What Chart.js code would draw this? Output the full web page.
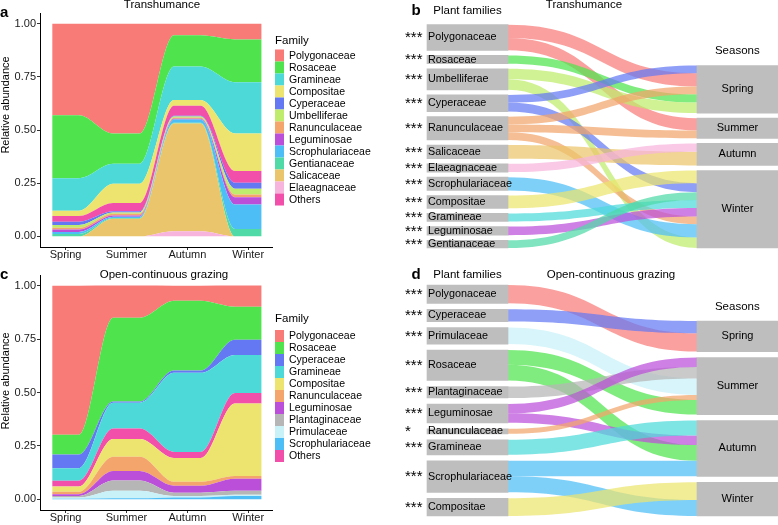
<!DOCTYPE html>
<html>
<head>
<meta charset="utf-8">
<script src="https://cdn.jsdelivr.net/npm/chart.js@4.4.1/dist/chart.umd.min.js"></script>
<style>
  body { margin: 0; background: #fff; }
  #wrap { position: relative; width: 778px; height: 525px; overflow: hidden; }
  canvas { position: absolute; }
</style>
</head>
<body>
<div id="wrap">
  <canvas id="chartA" width="380" height="262" style="left:0px;top:0px"></canvas>
  <canvas id="chartC" width="380" height="263" style="left:0px;top:262px"></canvas>
  <canvas id="chartB" width="398" height="262" style="left:380px;top:0px"></canvas>
  <canvas id="chartD" width="398" height="263" style="left:380px;top:262px"></canvas>
</div>
<script>
const seasons = ["Spring", "Summer", "Autumn", "Winter"];
const yTicks = [0, 0.25, 0.5, 0.75, 1];

// a: transhumance, relative abundance (stack order, bottom first)
const transStack = ["Elaeagnaceae", "Salicaceae", "Gentianaceae", "Scrophulariaceae", "Leguminosae",
  "Ranunculaceae", "Umbelliferae", "Cyperaceae", "Others", "Compositae", "Gramineae", "Rosaceae", "Polygonaceae"];
const transSpring = [0, 0, 0.011, 0.010, 0.011, 0.008, 0.013, 0.016, 0.027, 0.024, 0.153, 0.296, 0.431];
const transSummer = [0, 0.083, 0.003, 0.006, 0.006, 0.008, 0.006, 0.006, 0.039, 0.090, 0.094, 0.142, 0.517];
const transAutumn = [0.024, 0.507, 0.003, 0.015, 0.004, 0.005, 0.005, 0.004, 0.047, 0.027, 0.157, 0.147, 0.055];
const transWinter = [0, 0, 0.035, 0.115, 0.034, 0.013, 0.027, 0.028, 0.055, 0.177, 0.240, 0.202, 0.074];
const transLegend = ["Polygonaceae", "Rosaceae", "Gramineae", "Compositae", "Cyperaceae", "Umbelliferae",
  "Ranunculaceae", "Leguminosae", "Scrophulariaceae", "Gentianaceae", "Salicaceae", "Elaeagnaceae", "Others"];

// c: open-continuous grazing
const openStack = ["Scrophulariaceae", "Primulaceae", "Plantaginaceae", "Leguminosae", "Ranunculaceae",
  "Compositae", "Others", "Gramineae", "Cyperaceae", "Rosaceae", "Polygonaceae"];
const openSpring = [0.003, 0.005, 0.008, 0.008, 0.011, 0.025, 0.027, 0.059, 0.064, 0.092, 0.698];
const openSummer = [0.005, 0.035, 0.048, 0.044, 0.067, 0.083, 0.049, 0.121, 0.006, 0.392, 0.151];
const openAutumn = [0.009, 0.006, 0.016, 0.032, 0.019, 0.111, 0.029, 0.370, 0.011, 0.326, 0.071];
const openWinter = [0.016, 0.005, 0.019, 0.056, 0.013, 0.340, 0.049, 0.178, 0.071, 0.154, 0.100];
const openLegend = ["Polygonaceae", "Rosaceae", "Cyperaceae", "Gramineae", "Compositae", "Ranunculaceae",
  "Leguminosae", "Plantaginaceae", "Primulaceae", "Scrophulariaceae", "Others"];

// b: plant families -> seasons, transhumance
const transFlowFamilies = ["Polygonaceae", "Rosaceae", "Umbelliferae", "Cyperaceae", "Ranunculaceae", "Salicaceae",
  "Elaeagnaceae", "Scrophulariaceae", "Compositae", "Gramineae", "Leguminosae", "Gentianaceae"];
const transStars = ["***", "***", "***", "***", "***", "***", "***", "***", "***", "***", "***", "***"];
const transFlowSpring = [13.3, 8.3, 10.5, 7.7, 7.8, 0, 0, 0, 0, 0, 0, 0];
const transFlowSummer = [12.3, 0, 0, 0, 7.8, 0, 0, 0, 0, 0, 0, 0];
const transFlowAutumn = [0, 0, 0, 0, 0, 13.7, 8.3, 0, 0, 0, 0, 0];
const transFlowWinter = [0, 0, 10.5, 9, 7.6, 0, 0, 13.3, 12.7, 8, 8.7, 7.7];

// d: plant families -> seasons, open-continuous grazing
const openFlowFamilies = ["Polygonaceae", "Cyperaceae", "Primulaceae", "Rosaceae", "Plantaginaceae", "Leguminosae",
  "Ranunculaceae", "Gramineae", "Scrophulariaceae", "Compositae"];
const openStars = ["***", "***", "***", "***", "***", "***", "*", "***", "***", "***"];
const openFlowSpring = [18.3, 12.3, 0, 0, 0, 0, 0, 0, 0, 0];
const openFlowSummer = [0, 0, 16.5, 14.7, 11.5, 9.3, 5, 0, 0, 0];
const openFlowAutumn = [0, 0, 0, 15.7, 0, 9.5, 0, 15, 15.5, 0];
const openFlowWinter = [0, 0, 0, 0, 0, 0, 0, 0, 16, 17.7];

const familyColors = {
  Polygonaceae: "#F87B78", Rosaceae: "#4FE44E", Gramineae: "#4ED9D9", Compositae: "#ECE46E",
  Cyperaceae: "#6478F4", Umbelliferae: "#BFEC6C", Ranunculaceae: "#F3A56B", Leguminosae: "#BC4FDA",
  Scrophulariaceae: "#4EBEF7", Gentianaceae: "#4FDAA8", Salicaceae: "#EBC56B", Elaeagnaceae: "#F7B4DC",
  Others: "#F24FAA", Plantaginaceae: "#B6B6B6", Primulaceae: "#C8F1F8"
};
const nodeGray = "#BEBEBE";
const FONT = "'Liberation Sans', Arial, sans-serif";
Chart.defaults.font.family = FONT;
Chart.defaults.color = "#1a1a1a";

function rgba(hex, a) {
  const n = parseInt(hex.slice(1), 16);
  return `rgba(${n >> 16},${(n >> 8) & 255},${n & 255},${a})`;
}

// free text: panel letters, titles, axis title
const panelText = {
  id: "panelText",
  afterDraw(chart, args, opts) {
    const ctx = chart.ctx;
    (opts.items || []).forEach(it => {
      ctx.save();
      ctx.font = `${it.bold ? "bold " : ""}${it.size}px ${FONT}`;
      ctx.fillStyle = "#000";
      ctx.textAlign = it.align || "left";
      ctx.textBaseline = "middle";
      ctx.translate(it.x, it.y);
      if (it.rotate) ctx.rotate(it.rotate);
      ctx.fillText(it.text, 0, 0);
      ctx.restore();
    });
  }
};

// ggplot-like "Family" legend
const familyLegend = {
  id: "familyLegend",
  afterDraw(chart, args, opts) {
    const ctx = chart.ctx;
    ctx.save();
    ctx.fillStyle = "#000";
    ctx.textBaseline = "middle";
    ctx.font = `11.5px ${FONT}`;
    ctx.fillText("Family", opts.x, opts.titleY);
    ctx.font = `10.5px ${FONT}`;
    opts.order.forEach((name, i) => {
      const ds = chart.data.datasets.find(d => d.label === name);
      const top = opts.itemsTop + i * 12;
      ctx.fillStyle = ds.backgroundColor;
      ctx.fillRect(opts.x, top, 9, 12);
      ctx.fillStyle = "#000";
      ctx.fillText(name, opts.x + 14, top + 6.5);
    });
    ctx.restore();
  }
};

function stackChart(id, families, seasonValues, legendOrder, legendPos, texts) {
  const plateau = 0.22;
  const datasets = families.map((fam, k) => ({
    label: fam,
    data: seasonValues.flatMap((vals, i) => [{ x: i - plateau, y: vals[k] }, { x: i + plateau, y: vals[k] }]),
    backgroundColor: familyColors[fam],
    borderColor: familyColors[fam],
    borderWidth: 0,
    pointRadius: 0,
    fill: k === 0 ? "origin" : "-1",
    cubicInterpolationMode: "monotone"
  }));
  const axisGrid = { display: true, drawOnChartArea: false, tickLength: 3, color: "#333" };
  return new Chart(document.getElementById(id), {
    type: "line",
    data: { datasets },
    options: {
      responsive: false,
      animation: false,
      events: [],
      layout: { padding: { top: 13, right: 108, left: 0, bottom: 0 } },
      plugins: {
        legend: { display: false },
        tooltip: { enabled: false },
        familyLegend: { order: legendOrder, x: 275, titleY: legendPos.titleY, itemsTop: legendPos.itemsTop },
        panelText: { items: texts }
      },
      scales: {
        x: {
          type: "linear", min: -0.42, max: 3.39,
          afterBuildTicks: s => { s.ticks = seasons.map((_, i) => ({ value: i })); },
          afterFit: s => { s.height = 15; },
          ticks: { callback: v => seasons[v], font: { size: 11 }, padding: -2, maxRotation: 0, autoSkip: false, color: "#1a1a1a" },
          grid: axisGrid,
          border: { display: true, color: "#000", width: 1 }
        },
        y: {
          stacked: true, min: -0.05, max: 1.05,
          afterBuildTicks: s => { s.ticks = yTicks.map(v => ({ value: v })); },
          afterFit: s => { s.width = 40; },
          ticks: { callback: v => v.toFixed(2), font: { size: 11 }, padding: 1, color: "#1a1a1a" },
          grid: axisGrid,
          border: { display: true, color: "#000", width: 1 }
        }
      }
    },
    plugins: [familyLegend, panelText]
  });
}

function buildSankey(families, flows, gap, bottom) {
  const nf = families.length;
  const famTotal = families.map((_, i) => flows.reduce((s, arr) => s + arr[i], 0));
  const seaTotal = flows.map(arr => arr.reduce((s, v) => s + v, 0));
  const sum = a => a.reduce((s, v) => s + v, 0);
  const nodes = [];
  let y = bottom - (sum(famTotal) + gap * (nf - 1));
  families.forEach((f, i) => { nodes.push({ col: 0, name: f, y0: y, y1: y + famTotal[i] }); y += famTotal[i] + gap; });
  y = bottom - (sum(seaTotal) + gap * (seasons.length - 1));
  seasons.forEach((s, j) => { nodes.push({ col: 1, name: s, y0: y, y1: y + seaTotal[j] }); y += seaTotal[j] + gap; });
  const links = [];
  families.forEach((f, i) => {
    let c = nodes[i].y0;
    flows.forEach((arr, j) => {
      if (arr[i] > 0) { links.push({ fam: f, j, s0: c, s1: c + arr[i] }); c += arr[i]; }
    });
  });
  // flows arrive at each season sorted by family name
  seasons.forEach((s, j) => {
    let c = nodes[nf + j].y0;
    links.filter(l => l.j === j).sort((a, b) => a.fam.localeCompare(b.fam)).forEach(l => {
      l.t0 = c; l.t1 = c + (l.s1 - l.s0); c = l.t1;
    });
  });
  return { nodes, links, nf };
}

function sankeyChart(id, families, stars, flows, gap, bottom, texts) {
  const canvas = document.getElementById(id);
  const lay = buildSankey(families, flows, gap, bottom);

  const ribbons = {
    id: "ribbons",
    beforeDatasetsDraw(chart) {
      const ctx = chart.ctx, ys = chart.scales.y;
      const bars = chart.getDatasetMeta(0).data;
      const xL = bars[0].x + bars[0].width / 2;
      const xR = bars[lay.nf].x - bars[lay.nf].width / 2;
      const xm = (xL + xR) / 2;
      ctx.save();
      lay.links.forEach(l => {
        const s0 = ys.getPixelForValue(l.s0), s1 = ys.getPixelForValue(l.s1);
        const t0 = ys.getPixelForValue(l.t0), t1 = ys.getPixelForValue(l.t1);
        ctx.beginPath();
        ctx.moveTo(xL, s0);
        ctx.bezierCurveTo(xm, s0, xm, t0, xR, t0);
        ctx.lineTo(xR, t1);
        ctx.bezierCurveTo(xm, t1, xm, s1, xL, s1);
        ctx.closePath();
        ctx.fillStyle = rgba(familyColors[l.fam], 0.72);
        ctx.fill();
      });
      ctx.restore();
    }
  };

  const nodeLabels = {
    id: "nodeLabels",
    afterDatasetsDraw(chart) {
      const ctx = chart.ctx;
      const bars = chart.getDatasetMeta(0).data;
      ctx.save();
      ctx.fillStyle = "#000";
      lay.nodes.forEach((n, k) => {
        const b = bars[k];
        const cy = (b.y + b.base) / 2;
        if (n.col === 0) {
          ctx.font = `10.8px ${FONT}`;
          ctx.textAlign = "left";
          ctx.textBaseline = "middle";
          ctx.fillText(n.name, b.x - b.width / 2 + 1, cy);
          ctx.font = `15px ${FONT}`;
          ctx.textBaseline = "alphabetic";
          ctx.fillText(stars[k], 25, cy + 4.8);
        } else {
          ctx.font = `11px ${FONT}`;
          ctx.textAlign = "center";
          ctx.textBaseline = "middle";
          ctx.fillText(n.name, b.x, cy);
        }
      });
      ctx.restore();
    }
  };

  return new Chart(canvas, {
    type: "bar",
    data: {
      datasets: [{
        data: lay.nodes.map(n => ({ x: n.col, y: [n.y0, n.y1] })),
        backgroundColor: nodeGray,
        borderWidth: 0,
        barThickness: 81
      }]
    },
    options: {
      responsive: false,
      animation: false,
      events: [],
      layout: { padding: 0 },
      plugins: { legend: { display: false }, tooltip: { enabled: false }, panelText: { items: texts } },
      scales: {
        x: { type: "linear", display: false, min: -0.3241, max: 1.15, offset: false },
        y: { display: false, reverse: true, min: 0, max: canvas.height, beginAtZero: false }
      }
    },
    plugins: [ribbons, nodeLabels, panelText]
  });
}

stackChart("chartA", transStack, [transSpring, transSummer, transAutumn, transWinter], transLegend,
  { titleY: 41, itemsTop: 49.5 },
  [
    { text: "a", x: 0, y: 12.5, size: 15, bold: true },
    { text: "Transhumance", x: 162, y: 5, size: 11.5, align: "center" },
    { text: "Relative abundance", x: 5.5, y: 105, size: 11, align: "center", rotate: -Math.PI / 2 }
  ]);

stackChart("chartC", openStack, [openSpring, openSummer, openAutumn, openWinter], openLegend,
  { titleY: 56.5, itemsTop: 68 },
  [
    { text: "c", x: 0, y: 13, size: 15, bold: true },
    { text: "Open-continuous grazing", x: 164, y: 13, size: 11.5, align: "center" },
    { text: "Relative abundance", x: 5.5, y: 119, size: 11, align: "center", rotate: -Math.PI / 2 }
  ]);

sankeyChart("chartB", transFlowFamilies, transStars,
  [transFlowSpring, transFlowSummer, transFlowAutumn, transFlowWinter], 5.1, 248,
  [
    { text: "b", x: 31.5, y: 11, size: 15, bold: true },
    { text: "Plant families", x: 53.3, y: 11, size: 11.5 },
    { text: "Transhumance", x: 204, y: 5, size: 11.5, align: "center" },
    { text: "Seasons", x: 357.3, y: 50.7, size: 11.5, align: "center" }
  ]);

sankeyChart("chartD", openFlowFamilies, openStars,
  [openFlowSpring, openFlowSummer, openFlowAutumn, openFlowWinter], 6, 254,
  [
    { text: "d", x: 31.5, y: 13, size: 15, bold: true },
    { text: "Plant families", x: 53.3, y: 13, size: 11.5 },
    { text: "Open-continuous grazing", x: 231, y: 13, size: 11.5, align: "center" },
    { text: "Seasons", x: 357.3, y: 44.7, size: 11.5, align: "center" }
  ]);
</script>
</body>
</html>
